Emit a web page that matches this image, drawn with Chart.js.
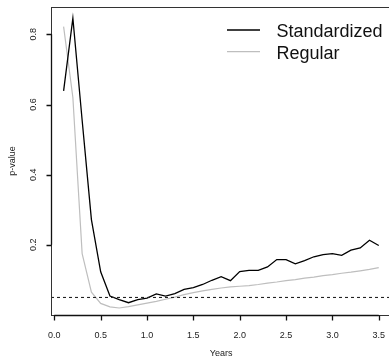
<!DOCTYPE html>
<html><head><meta charset="utf-8">
<script src="https://cdn.jsdelivr.net/npm/chart.js@4/dist/chart.umd.min.js"></script>
<style>
html,body{margin:0;padding:0;overflow:hidden;background:#fff;width:389px;height:358px}
canvas{display:block}
</style></head>
<body><canvas id="c" width="392" height="358"></canvas>
<script>
const years = [0.1,0.2,0.3,0.4,0.5,0.6,0.7,0.8,0.9,1.0,1.1,1.2,1.3,1.4,1.5,1.6,1.7,1.8,1.9,2.0,2.1,2.2,2.3,2.4,2.5,2.6,2.7,2.8,2.9,3.0,3.1,3.2,3.3,3.4,3.5];
const standardized = [0.639,0.846,0.555,0.272,0.123,0.054,0.044,0.035,0.044,0.048,0.060,0.054,0.061,0.073,0.078,0.087,0.099,0.109,0.098,0.124,0.127,0.127,0.137,0.158,0.158,0.146,0.155,0.166,0.172,0.175,0.170,0.185,0.191,0.213,0.198];
const regular = [0.822,0.620,0.175,0.065,0.033,0.023,0.020,0.024,0.029,0.034,0.039,0.045,0.051,0.058,0.064,0.069,0.073,0.077,0.080,0.082,0.084,0.087,0.091,0.094,0.098,0.101,0.105,0.108,0.112,0.115,0.119,0.122,0.126,0.130,0.135];
const seriesNames = ['Standardized','Regular'];
const xTicks = [0.0,0.5,1.0,1.5,2.0,2.5,3.0,3.5];
const yTicks = [0.2,0.4,0.6,0.8];
const threshold = 0.05;
const xLimits = [-0.036, 3.636];
const yLimits = [0.0, 0.878];

const FONT = '"Liberation Sans", Arial, Helvetica, sans-serif';

const framePlugin = {
  id: 'frame',
  afterDraw(chart) {
    const ctx = chart.ctx, a = chart.chartArea;
    const xs = chart.scales.x, ys = chart.scales.y;
    ctx.save();
    // box
    ctx.strokeStyle = '#333';
    ctx.lineWidth = 1;
    ctx.strokeRect(Math.round(a.left)+0.5, Math.round(a.top)+0.5, a.right - a.left, Math.round(a.bottom) - Math.round(a.top));
    // x axis
    ctx.strokeStyle = '#111';
    ctx.lineWidth = 1.3;
    const by = Math.round(a.bottom)+0.5;
    ctx.beginPath();
    ctx.moveTo(xs.getPixelForValue(xTicks[0]), by);
    ctx.lineTo(xs.getPixelForValue(xTicks[xTicks.length-1]), by);
    xTicks.forEach(v => { const p = Math.round(xs.getPixelForValue(v))+0.5; ctx.moveTo(p, by); ctx.lineTo(p, by+5); });
    ctx.stroke();
    // y axis
    const lx = Math.round(a.left)+0.5;
    ctx.beginPath();
    ctx.moveTo(lx, ys.getPixelForValue(yTicks[0]));
    ctx.lineTo(lx, ys.getPixelForValue(yTicks[yTicks.length-1]));
    yTicks.forEach(v => { const p = Math.round(ys.getPixelForValue(v))+0.5; ctx.moveTo(lx, p); ctx.lineTo(lx-5, p); });
    ctx.stroke();
    // y tick labels (rotated, as in R)
    ctx.fillStyle = '#222';
    ctx.font = '9px ' + FONT;
    ctx.textAlign = 'center';
    ctx.textBaseline = 'middle';
    yTicks.forEach(v => {
      ctx.save();
      ctx.translate(lx - 17.5, ys.getPixelForValue(v));
      ctx.rotate(-Math.PI/2);
      ctx.fillText(v.toFixed(1), 0, 0);
      ctx.restore();
    });
    // legend
    const ds = chart.data.datasets;
    ctx.font = '18px ' + FONT;
    ctx.textAlign = 'left';
    ctx.textBaseline = 'alphabetic';
    const rows = [{y: 30, by: 36.5}, {y: 51.7, by: 58.5}];
    for (let i = 0; i < 2; i++) {
      ctx.strokeStyle = ds[i].borderColor;
      ctx.lineWidth = ds[i].borderWidth;
      ctx.beginPath();
      ctx.moveTo(227, rows[i].y);
      ctx.lineTo(260, rows[i].y);
      ctx.stroke();
      ctx.fillStyle = '#111';
      ctx.fillText(ds[i].label, 276.5, rows[i].by);
    }
    ctx.restore();
  }
};

new Chart(document.getElementById('c'), {
  type: 'line',
  data: {
    datasets: [
      { label: seriesNames[0], data: years.map((x,i)=>({x, y: standardized[i]})), borderColor: '#000', borderWidth: 1.3, pointRadius: 0, tension: 0, order: 1 },
      { label: seriesNames[1], data: years.map((x,i)=>({x, y: regular[i]})), borderColor: '#bebebe', borderWidth: 1.2, pointRadius: 0, tension: 0, order: 2 },
      { label: 'threshold', data: [{x: xLimits[0], y: threshold}, {x: xLimits[1], y: threshold}], borderColor: '#222', borderWidth: 1.1, borderDash: [3,3], pointRadius: 0, order: 0 }
    ]
  },
  options: {
    responsive: false,
    animation: false,
    devicePixelRatio: 1,
    layout: { padding: { top: 7, left: 0, right: 0, bottom: 0 } },
    plugins: { legend: { display: false }, tooltip: { enabled: false } },
    scales: {
      x: {
        type: 'linear', min: xLimits[0], max: xLimits[1],
        afterBuildTicks: s => { s.ticks = xTicks.map(v => ({value: v})); },
        afterFit: s => { s.height = 43; },
        grid: { display: false }, border: { display: false },
        ticks: { callback: v => v.toFixed(1), color: '#222', font: { size: 9, family: FONT }, padding: 7, maxRotation: 0, autoSkip: false },
        title: { display: true, text: 'Years', color: '#222', font: { size: 9, family: FONT }, padding: { top: 0, bottom: -1 } }
      },
      y: {
        type: 'linear', min: yLimits[0], max: yLimits[1],
        afterBuildTicks: s => { s.ticks = yTicks.map(v => ({value: v})); },
        afterFit: s => { s.width = 51; },
        grid: { display: false }, border: { display: false },
        ticks: { display: false },
        title: { display: true, text: 'p-value', color: '#222', font: { size: 9, family: FONT }, padding: { top: 7, bottom: 0 } }
      }
    }
  },
  plugins: [framePlugin]
});
</script>
</body></html>
